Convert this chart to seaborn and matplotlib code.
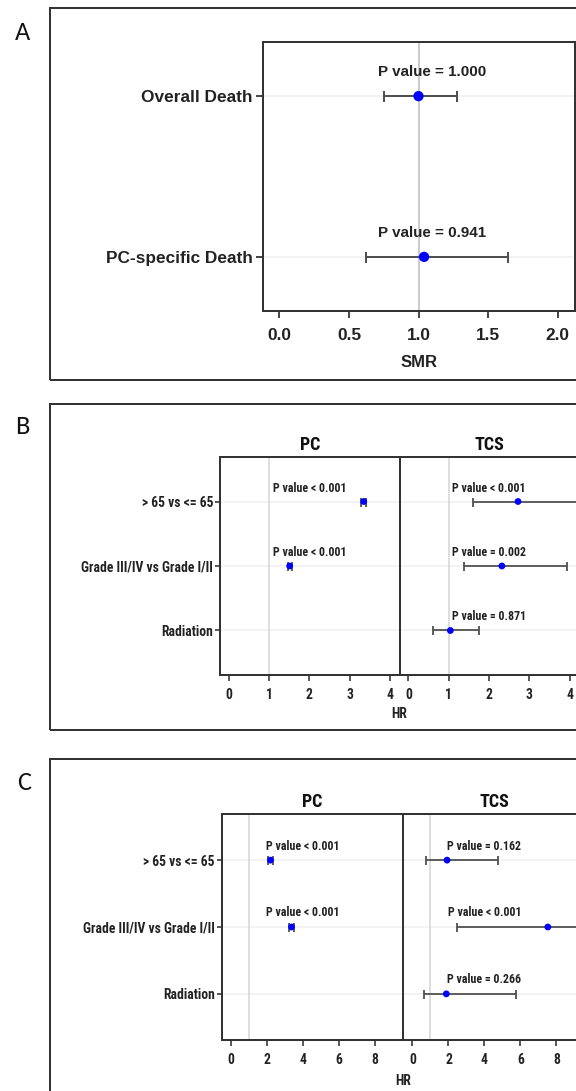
import numpy as np
import pandas as pd
import matplotlib
matplotlib.use("Agg")
import matplotlib.pyplot as plt
import seaborn as sns
from matplotlib.patches import Rectangle

# ---------------- data ----------------
a_labels = ["Overall Death", "PC-specific Death"]
a_smr = [1.00, 1.04]
a_lo = [0.75, 0.62]
a_hi = [1.28, 1.64]
a_p = ["P value = 1.000", "P value = 0.941"]
a_ticks = [0.0, 0.5, 1.0, 1.5, 2.0]
a_ticklabels = ["0.0", "0.5", "1.0", "1.5", "2.0"]

bc_labels = ["> 65 vs <= 65", "Grade III/IV vs Grade I/II", "Radiation"]
panel_titles = ["PC", "TCS"]

b_pc_hr = [3.35, 1.51, np.nan]
b_pc_lo = [3.29, 1.46, np.nan]
b_pc_hi = [3.41, 1.56, np.nan]
b_pc_p = ["P value < 0.001", "P value < 0.001", ""]
b_tcs_hr = [2.72, 2.32, 1.04]
b_tcs_lo = [1.61, 1.37, 0.62]
b_tcs_hi = [4.60, 3.93, 1.74]
b_tcs_p = ["P value < 0.001", "P value = 0.002", "P value = 0.871"]
b_ticks = [0, 1, 2, 3, 4]

c_pc_hr = [2.20, 3.37, np.nan]
c_pc_lo = [2.05, 3.22, np.nan]
c_pc_hi = [2.35, 3.52, np.nan]
c_pc_p = ["P value < 0.001", "P value < 0.001", ""]
c_tcs_hr = [1.92, 7.52, 1.88]
c_tcs_lo = [0.77, 2.45, 0.63]
c_tcs_hi = [4.74, 22.0, 5.74]
c_tcs_p = ["P value = 0.162", "P value < 0.001", "P value = 0.266"]
c_ticks = [0, 2, 4, 6, 8]

# ---------------- style ----------------
sns.set_theme(style="white")
plt.rcParams["font.family"] = ["Liberation Sans", "DejaVu Sans"]
NARROW = ["Roboto Condensed", "PT Sans Narrow", "Liberation Sans", "DejaVu Sans"]
LETTER = ["Carlito", "Liberation Sans", "DejaVu Sans"]

W, H = 576, 1091
DPI = 100
fig = plt.figure(figsize=(W / DPI, H / DPI), dpi=DPI)

def px(v):
    return v * 72.0 / DPI

DARK = "#333333"
EBAR = "#505050"
BLUE = "#0000ff"

def fx(x):
    return x / W

def fy(y):
    return 1 - y / H

def frame(top, bottom):
    fig.patches.append(Rectangle((fx(50), fy(bottom)), 1.2, (bottom - top) / H,
                                 transform=fig.transFigure, fill=False,
                                 edgecolor=DARK, linewidth=px(2.0)))

def style_axes(ax, lw=px(2)):
    for s in ax.spines.values():
        s.set_color(DARK)
        s.set_linewidth(lw)
        s.set_visible(True)

# ---------------- Panel A ----------------
frame(8, 380)
fig.text(fx(23), fy(32), "A", fontsize=19, ha="center", va="center", color="#111111",
         family=LETTER)
axA = fig.add_axes([fx(262.7), fy(310.7), (575 - 262.7) / W, (310.7 - 42.3) / H])
style_axes(axA)
dfA = pd.DataFrame({"label": a_labels, "est": a_smr, "lo": a_lo, "hi": a_hi,
                    "row": np.arange(len(a_labels))})
for r in dfA["row"]:
    axA.axhline(r, color="#eeeeee", lw=px(1.5), zorder=0)
axA.axvline(1.0, color="#cccccc", lw=px(2), zorder=0)
axA.errorbar(dfA["est"], dfA["row"], xerr=[dfA["est"] - dfA["lo"], dfA["hi"] - dfA["est"]],
             fmt="none", ecolor=EBAR, elinewidth=px(2), capsize=px(5.5), capthick=px(2), zorder=2)
sns.scatterplot(data=dfA, x="est", y="row", ax=axA, color=BLUE, s=55, edgecolor="none",
                zorder=3, legend=False)
for r, t in zip(dfA["row"], a_p):
    axA.annotate(t, xy=(1.10, r), xytext=(0, px(24)), textcoords="offset points",
                 ha="center", va="center", fontsize=10.9, fontweight="bold", color="#222222")
axA.set_xlim(-0.12, 2.125)
axA.set_ylim(1.335, -0.335)
axA.set_xticks(a_ticks)
axA.set_xticklabels(a_ticklabels, fontsize=12.4, fontweight="bold")
axA.set_yticks(dfA["row"])
axA.set_yticklabels(a_labels, fontsize=12.4, fontweight="bold")
axA.tick_params(axis="both", direction="out", length=px(7), width=px(1.8), color=DARK,
                labelcolor="#222222", bottom=True, left=True)
axA.tick_params(axis="x", pad=px(10))
axA.tick_params(axis="y", pad=px(3))
axA.set_xlabel("")
axA.set_ylabel("")
fig.text(fx(418.8), fy(362.7), "SMR", fontsize=12, fontweight="bold", ha="center",
         va="center", color="#222222")

# ---------------- Panels B, C ----------------
def hr_panel(top_frame, bottom_frame, letter, letter_xy, ax_left, ax_w, ax_top, ax_bot,
             xlim, ticks, pc, tcs, p_x, p_off, title_y, tick_pad, hr_xy):
    frame(top_frame, bottom_frame)
    fig.text(fx(letter_xy[0]), fy(letter_xy[1]), letter, fontsize=19, ha="center",
             va="center", color="#111111", family=LETTER)
    axes = []
    for i, (est, lo, hi, ptxt) in enumerate([pc, tcs]):
        ax = fig.add_axes([fx(ax_left + i * ax_w), fy(ax_bot), ax_w / W, (ax_bot - ax_top) / H])
        style_axes(ax)
        df = pd.DataFrame({"est": est, "lo": lo, "hi": hi, "row": np.arange(len(bc_labels))})
        for r in df["row"]:
            ax.axhline(r, color="#f0f0f0", lw=px(1.5), zorder=0)
        ax.axvline(1.0, color="#d4d4d4", lw=px(1.5), zorder=0)
        ok = df.dropna()
        ax.errorbar(ok["est"], ok["row"], xerr=[ok["est"] - ok["lo"], ok["hi"] - ok["est"]],
                    fmt="none", ecolor=EBAR, elinewidth=px(1.8), capsize=px(4.5),
                    capthick=px(1.8), zorder=2)
        sns.scatterplot(data=ok, x="est", y="row", ax=ax, color=BLUE, s=24,
                        edgecolor="none", zorder=3, legend=False)
        for r, t in zip(df["row"], ptxt):
            if t:
                ax.annotate(t, xy=(p_x, r), xytext=(0, px(p_off)), textcoords="offset points",
                            ha="center", va="center", fontsize=8.6,
                            fontweight="bold", family=NARROW, color="#222222")
        ax.set_xlim(*xlim)
        ax.set_ylim(2.69, -0.69)
        ax.set_xticks(ticks)
        ax.set_xticklabels([str(t) for t in ticks], fontsize=9.8,
                           fontweight="bold", family=NARROW)
        ax.set_yticks(df["row"])
        if i == 0:
            ax.set_yticklabels(bc_labels, fontsize=9.8, fontweight="bold",
                               family=NARROW)
            ax.tick_params(axis="y", direction="out", length=px(5), width=px(1.6),
                           color=DARK, labelcolor="#222222", left=True, pad=px(2))
        else:
            ax.tick_params(axis="y", left=False, labelleft=False)
        ax.tick_params(axis="x", direction="out", length=px(6), width=px(1.6), color=DARK,
                       labelcolor="#222222", bottom=True, pad=px(tick_pad))
        ax.set_xlabel("")
        ax.set_ylabel("")
        ax.annotate(panel_titles[i], xy=(0.5, 1), xycoords="axes fraction",
                    xytext=(0, px(ax_top - title_y)), textcoords="offset points",
                    ha="center", va="center", fontsize=13, fontweight="bold",
                    family=NARROW, color="#111111")
        axes.append(ax)
    fig.text(fx(hr_xy[0]), fy(hr_xy[1]), "HR", fontsize=9.8, fontweight="bold",
             family=NARROW, ha="center", va="center", color="#222222")
    return axes

hr_panel(404, 730, "B", (22, 427), 220.0, 179.6, 457, 675, (-0.22, 4.24), b_ticks,
         (b_pc_hr, b_pc_lo, b_pc_hi, b_pc_p), (b_tcs_hr, b_tcs_lo, b_tcs_hi, b_tcs_p),
         2.0, 13.5, 445, 7, (399.6, 714))

hr_panel(759, 1110, "C", (24, 783), 221.7, 181.6, 814, 1040, (-0.51, 9.58), c_ticks,
         (c_pc_hr, c_pc_lo, c_pc_hi, c_pc_p), (c_tcs_hr, c_tcs_lo, c_tcs_hi, c_tcs_p),
         4.0, 14.0, 801.7, 7, (403.3, 1080.7))

fig.savefig("out.png", dpi=DPI)
